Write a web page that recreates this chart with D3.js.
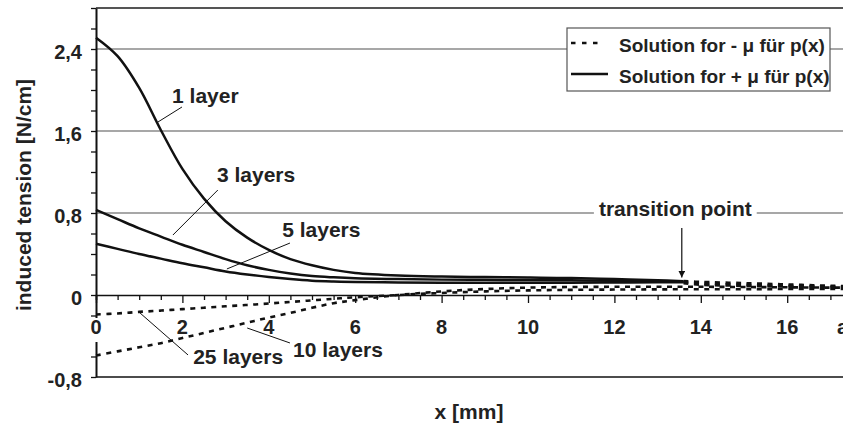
<!DOCTYPE html>
<html>
<head>
<meta charset="utf-8">
<script src="https://d3js.org/d3.v7.min.js"></script>
<style>
  body { margin: 0; background: #fff; }
  svg text { font-family: "Liberation Sans", Arial, sans-serif; font-weight: bold; fill: #222; }
</style>
</head>
<body>
<div id="chart"></div>
<script>
// x positions [mm] and induced tension [N/cm]
var xMain  = [0, 0.5, 1, 1.5, 2, 2.5, 3, 3.5, 4, 4.5, 5, 5.5, 6, 7, 8, 9, 10, 11, 12, 13, 13.6];
var layer1 = [2.51, 2.33, 2.02, 1.61, 1.23, 0.94, 0.72, 0.56, 0.44, 0.35, 0.29, 0.245, 0.215, 0.19, 0.18, 0.175, 0.17, 0.165, 0.155, 0.145, 0.135];
var layer3 = [0.83, 0.74, 0.65, 0.57, 0.49, 0.42, 0.35, 0.29, 0.245, 0.21, 0.185, 0.172, 0.163, 0.155, 0.15, 0.148, 0.146, 0.143, 0.14, 0.135, 0.13];
var layer5 = [0.5, 0.45, 0.4, 0.355, 0.31, 0.27, 0.23, 0.2, 0.175, 0.155, 0.14, 0.132, 0.127, 0.122, 0.12, 0.12, 0.12, 0.12, 0.122, 0.124, 0.125];

var xNeg    = [0, 0.5, 1, 1.5, 2, 2.5, 3, 3.5, 4, 4.5, 5, 5.5, 6, 7, 8, 9, 10, 11, 12, 13, 14, 15, 16, 17, 18];
var layer10 = [-0.59, -0.55, -0.51, -0.47, -0.42, -0.37, -0.32, -0.27, -0.22, -0.175, -0.125, -0.08, -0.05, 0.0, 0.035, 0.058, 0.072, 0.078, 0.08, 0.08, 0.08, 0.078, 0.075, 0.072, 0.07];
var layer25 = [-0.19, -0.18, -0.165, -0.152, -0.138, -0.124, -0.11, -0.097, -0.083, -0.068, -0.052, -0.037, -0.022, 0.0, 0.02, 0.035, 0.045, 0.05, 0.053, 0.055, 0.056, 0.057, 0.058, 0.058, 0.058];

// after the transition point the +mu curves go on as -mu (dashed)
var xTail = [13.6, 14, 15, 16, 17, 18];
var tail1 = [0.135, 0.128, 0.116, 0.103, 0.09, 0.082];
var tail3 = [0.125, 0.112, 0.1, 0.09, 0.082, 0.076];
var tail5 = [0.115, 0.1, 0.09, 0.082, 0.076, 0.072];

var yTicks = d3.range(-4, 15).map(function(i) { return i / 5; });
var yLabels = [-0.8, 0, 0.8, 1.6, 2.4];
var yGrid = [0.8, 1.6, 2.4];
var xTicks = d3.range(0, 36).map(function(i) { return i / 2; });
var xLabels = [0, 2, 4, 6, 8, 10, 12, 14, 16];
var transitionX = 13.56;

var legendNames = ["Solution for - \u03bc f\u00fcr p(x)", "Solution for + \u03bc f\u00fcr p(x)"];

var w = 843, h = 428;

var xScale = d3.scaleLinear().domain([0, 18]).range([96, 96 + 18 * 43.2]);
var yScale = d3.scaleLinear().domain([-0.8, 2.8]).range([377, 8]);

var svg = d3.select("#chart").append("svg")
    .attr("width", w)
    .attr("height", h);

// grid
svg.selectAll("line.grid")
    .data(yGrid)
    .enter().append("line")
    .attr("class", "grid")
    .attr("x1", xScale(0)).attr("x2", w)
    .attr("y1", function(d) { return yScale(d); })
    .attr("y2", function(d) { return yScale(d); })
    .attr("stroke", "#8a8a8a").attr("stroke-width", 1.6);

// top + bottom frame
svg.append("line")
    .attr("x1", xScale(0)).attr("x2", w)
    .attr("y1", yScale(2.8)).attr("y2", yScale(2.8))
    .attr("stroke", "#555").attr("stroke-width", 2);
svg.append("line")
    .attr("x1", xScale(0)).attr("x2", w)
    .attr("y1", yScale(-0.8)).attr("y2", yScale(-0.8))
    .attr("stroke", "#111").attr("stroke-width", 1.6);

// curves
function toPts(xs, ys) {
    return xs.map(function(d, i) { return [d, ys[i]]; });
}
var line = d3.line()
    .x(function(d) { return xScale(d[0]); })
    .y(function(d) { return yScale(d[1]); })
    .curve(d3.curveCatmullRom.alpha(0.5));

var solid = [toPts(xMain, layer1), toPts(xMain, layer3), toPts(xMain, layer5)];
var dashed = [toPts(xNeg, layer10), toPts(xNeg, layer25),
              toPts(xTail, tail1), toPts(xTail, tail3), toPts(xTail, tail5)];

svg.selectAll("path.solid")
    .data(solid)
    .enter().append("path")
    .attr("class", "solid")
    .attr("d", line)
    .attr("fill", "none")
    .attr("stroke", "#111")
    .attr("stroke-width", 2.5);

svg.selectAll("path.dashed")
    .data(dashed)
    .enter().append("path")
    .attr("class", "dashed")
    .attr("d", line)
    .attr("fill", "none")
    .attr("stroke", "#111")
    .attr("stroke-width", 2.6)
    .attr("stroke-dasharray", "5,5.5");

// y axis
var yAxis = d3.axisLeft(yScale)
    .tickValues(yTicks)
    .tickSize(5)
    .tickSizeOuter(0)
    .tickPadding(9)
    .tickFormat(function(d) {
        var lab = yLabels.find(function(v) { return Math.abs(v - d) < 1e-6; });
        if (lab === undefined) return "";
        return lab === 0 ? "0" : lab.toFixed(1).replace(".", ",");
    });
var gy = svg.append("g")
    .attr("transform", "translate(" + xScale(0) + ",0)")
    .call(yAxis);
gy.select(".domain").attr("stroke", "#111").attr("stroke-width", 2);
gy.selectAll(".tick line").attr("stroke", "#111").attr("stroke-width", 1.3);
gy.selectAll(".tick text")
    .attr("font-size", 20).attr("dy", "0.45em")
    .style("font-family", "'Liberation Sans', Arial, sans-serif").style("font-weight", "bold").attr("fill", "#222");

// x axis
var xAxis = d3.axisBottom(xScale)
    .tickValues(xTicks)
    .tickSizeOuter(0)
    .tickSize(5)
    .tickFormat("");
var gx = svg.append("g")
    .attr("transform", "translate(0," + yScale(0) + ")")
    .call(xAxis);
gx.select(".domain").attr("stroke", "#111").attr("stroke-width", 1.6);
gx.selectAll(".tick line")
    .attr("stroke", "#111").attr("stroke-width", 1.3)
    .attr("y2", function(d) { return d % 2 === 0 ? 8 : 5; });

var xl = svg.selectAll("g.xlab")
    .data(xLabels)
    .enter().append("g")
    .attr("class", "xlab");
xl.append("text")
    .attr("x", function(d) { return xScale(d); })
    .attr("y", yScale(0) + 39)
    .attr("text-anchor", "middle")
    .attr("font-size", 20)
    .text(function(d) { return d; });
// white box behind "0" hides the y-axis there
xl.filter(function(d) { return d === 0; }).each(function() {
    var g = d3.select(this);
    var b = g.select("text").node().getBBox();
    g.insert("rect", ":first-child")
        .attr("x", b.x - 1).attr("y", b.y + 2)
        .attr("width", b.width + 2).attr("height", b.height + 2)
        .attr("fill", "#fff");
});

// axis titles
svg.append("text")
    .attr("transform", "translate(31,195) rotate(-90)")
    .attr("text-anchor", "middle")
    .attr("font-size", 21)
    .text("induced tension [N/cm]");
svg.append("text")
    .attr("x", 469).attr("y", 419)
    .attr("text-anchor", "middle")
    .attr("font-size", 21)
    .text("x [mm]");

// curve labels with leader lines (data units)
var notes = [
    { t: "1 layer",   tx: 1.76, ty: 1.873, a: [1.99, 1.834], b: [1.435, 1.688] },
    { t: "3 layers",  tx: 2.80, ty: 1.102, a: [2.82, 1.024], b: [1.78, 0.585] },
    { t: "5 layers",  tx: 4.31, ty: 0.566, a: [4.49, 0.507], b: [3.03, 0.254] },
    { t: "25 layers", tx: 2.25, ty: -0.673, a: [1.02, -0.176], b: [2.13, -0.585] },
    { t: "10 layers", tx: 4.56, ty: -0.605, a: [3.5, -0.322], b: [4.49, -0.468] }
];
svg.selectAll("line.leader")
    .data(notes)
    .enter().append("line")
    .attr("class", "leader")
    .attr("x1", function(d) { return xScale(d.a[0]); })
    .attr("y1", function(d) { return yScale(d.a[1]); })
    .attr("x2", function(d) { return xScale(d.b[0]); })
    .attr("y2", function(d) { return yScale(d.b[1]); })
    .attr("stroke", "#111").attr("stroke-width", 1);
svg.selectAll("text.note")
    .data(notes)
    .enter().append("text")
    .attr("class", "note")
    .attr("x", function(d) { return xScale(d.tx); })
    .attr("y", function(d) { return yScale(d.ty); })
    .attr("font-size", 21)
    .text(function(d) { return d.t; });

// transition point
var tg = svg.append("g");
var tp = tg.append("text")
    .attr("x", xScale(13.41)).attr("y", yScale(0.771))
    .attr("text-anchor", "middle")
    .attr("font-size", 21)
    .text("transition point");
var tb = tp.node().getBBox();
tg.insert("rect", ":first-child")
    .attr("x", tb.x - 5).attr("y", tb.y)
    .attr("width", tb.width + 10).attr("height", tb.height)
    .attr("fill", "#fff");
svg.append("defs").append("marker")
    .attr("id", "arr")
    .attr("viewBox", "0 0 10 10")
    .attr("refX", 10).attr("refY", 5)
    .attr("markerWidth", 7).attr("markerHeight", 7)
    .attr("markerUnits", "userSpaceOnUse")
    .attr("orient", "auto")
    .append("path").attr("d", "M0,0L10,5L0,10z").attr("fill", "#111");
svg.append("line")
    .attr("x1", xScale(transitionX)).attr("x2", xScale(transitionX))
    .attr("y1", yScale(0.654)).attr("y2", yScale(0.17))
    .attr("stroke", "#111").attr("stroke-width", 1.2)
    .attr("marker-end", "url(#arr)");

// label cut off at the right edge, as in the source picture
svg.append("text")
    .attr("x", 837).attr("y", yScale(0) + 39)
    .attr("font-size", 20)
    .text("a");

// legend
var lg = svg.append("g").attr("transform", "translate(567,28)");
lg.append("rect")
    .attr("width", 263).attr("height", 63)
    .attr("fill", "#fff").attr("stroke", "#555").attr("stroke-width", 1.2);
var li = lg.selectAll("g.item")
    .data(legendNames)
    .enter().append("g")
    .attr("class", "item")
    .attr("transform", function(d, i) { return "translate(0," + (i * 31) + ")"; });
li.append("line")
    .attr("x1", 4).attr("x2", function(d, i) { return i === 0 ? 33 : 41; })
    .attr("y1", 15).attr("y2", 15)
    .attr("stroke", "#111").attr("stroke-width", 2.5)
    .attr("stroke-dasharray", function(d, i) { return i === 0 ? "4.5,6.5" : null; });
li.append("text")
    .attr("x", 52).attr("y", 24)
    .attr("font-size", 19)
    .text(function(d) { return d; });
</script>
</body>
</html>
